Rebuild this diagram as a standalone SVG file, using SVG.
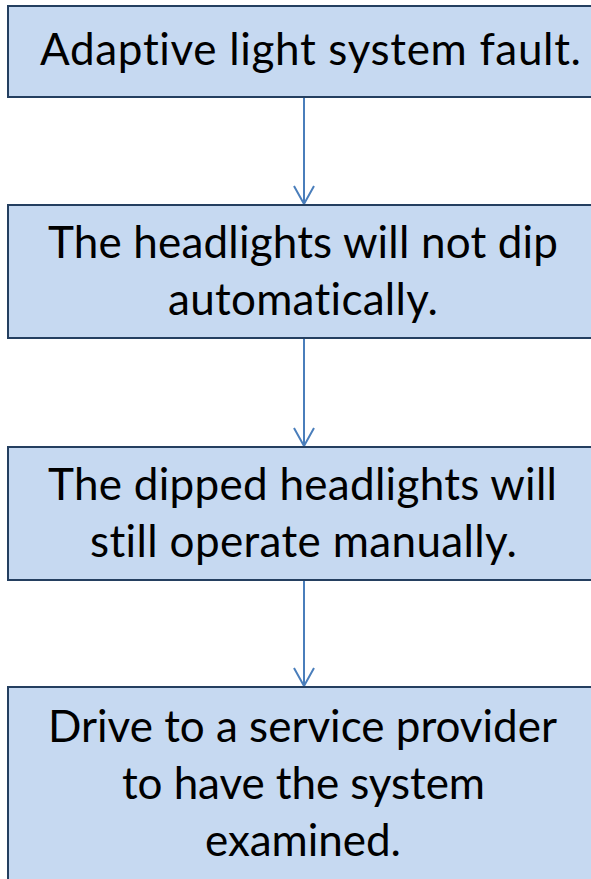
<svg xmlns="http://www.w3.org/2000/svg" width="591" height="879" viewBox="0 0 591 879">
<style>
.box{fill:#c6d9f1;stroke:#243f60;stroke-width:2}
.t{font-family:"Lato","Liberation Sans",sans-serif;font-size:44px;fill:#000;text-anchor:middle;font-variant-ligatures:none;font-feature-settings:"liga" 0,"clig" 0,"dlig" 0}
.c{stroke:#4a7ebb;stroke-width:2;fill:none}
</style>
<rect width="591" height="879" fill="#fff"/>
<g id="connectors">
<line class="c" x1="304" y1="97" x2="304" y2="204"/>
<polyline class="c" points="294,186 304,204 314,186"/>
<line class="c" x1="304" y1="338" x2="304" y2="446"/>
<polyline class="c" points="294,428 304,446 314,428"/>
<line class="c" x1="304" y1="580" x2="304" y2="686"/>
<polyline class="c" points="294,668 304,686 314,668"/>
</g>
<g id="n1">
<rect class="box" x="8" y="6" width="600" height="91"/>
<text class="t" x="310.5" y="65" textLength="541">Adaptive light system fault.</text>
</g>
<g id="n2">
<rect class="box" x="8" y="205" width="600" height="133"/>
<text class="t" x="303" y="258" textLength="510">The headlights will not dip</text>
<text class="t" x="303" y="315" textLength="270">automatically.</text>
</g>
<g id="n3">
<rect class="box" x="8" y="447" width="600" height="133"/>
<text class="t" x="302.5" y="500" textLength="509">The dipped headlights will</text>
<text class="t" x="303.5" y="557" textLength="427">still operate manually.</text>
</g>
<g id="n4">
<rect class="box" x="8" y="687" width="600" height="200"/>
<text class="t" x="302.5" y="742" textLength="509">Drive to a service provider</text>
<text class="t" x="303.5" y="799" textLength="363">to have the system</text>
<text class="t" x="303" y="856" textLength="196">examined.</text>
</g>
</svg>
